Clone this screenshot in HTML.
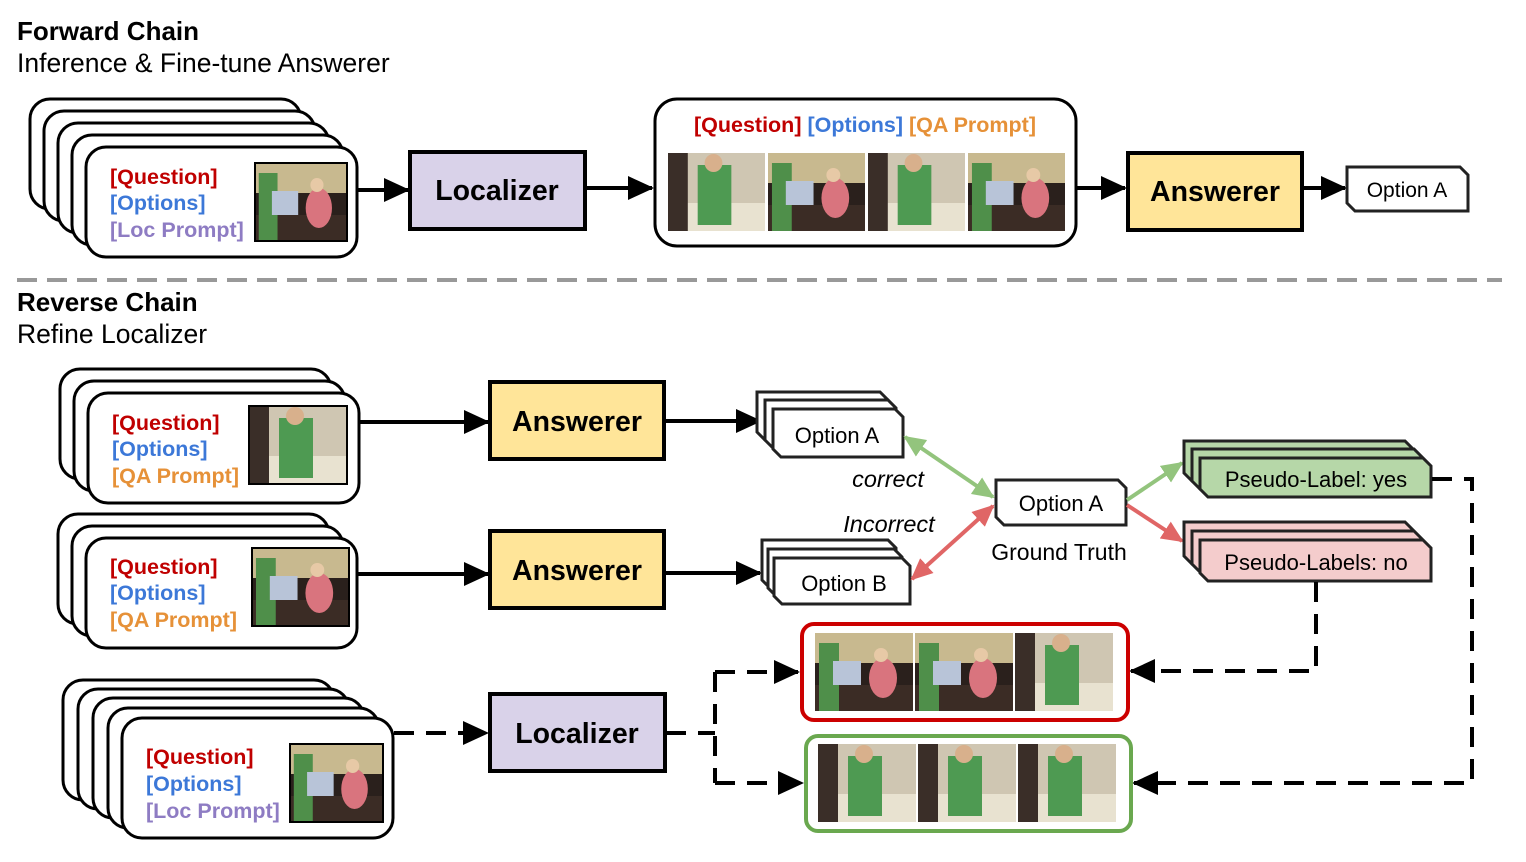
<!DOCTYPE html>
<html><head><meta charset="utf-8"><style>
html,body{margin:0;padding:0;background:#fff;}
svg{display:block;font-family:"Liberation Sans",Arial,sans-serif;}
</style></head><body>
<svg width="1526" height="862" viewBox="0 0 1526 862" xmlns="http://www.w3.org/2000/svg">
<defs>
<marker id="ah" markerUnits="userSpaceOnUse" markerWidth="26" markerHeight="24" refX="24" refY="12" orient="auto"><path d="M0,0 L26,12 L0,24 Z" fill="#000"/></marker>
<marker id="gh" markerUnits="userSpaceOnUse" markerWidth="22" markerHeight="20" refX="20" refY="10" orient="auto-start-reverse"><path d="M0,0 L22,10 L0,20 Z" fill="#93c47d"/></marker>
<marker id="rh" markerUnits="userSpaceOnUse" markerWidth="22" markerHeight="20" refX="20" refY="10" orient="auto-start-reverse"><path d="M0,0 L22,10 L0,20 Z" fill="#e06666"/></marker>
<symbol id="f1" viewBox="0 0 98 78" preserveAspectRatio="none">
<rect width="98" height="78" fill="#3b2c25"/><rect width="98" height="30" fill="#c8b98f"/><rect y="30" width="98" height="22" fill="#2a201c"/>
<ellipse cx="68" cy="45" rx="14" ry="20" fill="#d9747e"/><circle cx="66" cy="22" r="7" fill="#e7c9a6"/>
<rect x="4" y="10" width="20" height="68" fill="#4f8f4a"/><rect x="18" y="28" width="28" height="24" fill="#b8c4d8"/>
</symbol>
<symbol id="f2" viewBox="0 0 98 78" preserveAspectRatio="none">
<rect width="98" height="78" fill="#cfc6b2"/><rect y="50" width="98" height="28" fill="#e8e2d0"/>
<rect x="30" y="12" width="34" height="60" fill="#4e9a52"/><circle cx="46" cy="10" r="9" fill="#d8b08c"/><rect x="0" y="0" width="20" height="78" fill="#3a2e28"/>
</symbol>
</defs>

<text x="17" y="40" font-size="26" font-weight="bold">Forward Chain</text>
<text x="17" y="72" font-size="26.5">Inference &amp; Fine-tune Answerer</text>

<g fill="#fff" stroke="#000" stroke-width="3">
<rect x="30" y="99" width="271" height="110" rx="20"/>
<rect x="44" y="111" width="271" height="110" rx="20"/>
<rect x="58" y="123" width="271" height="110" rx="20"/>
<rect x="72" y="135" width="271" height="110" rx="20"/>
<rect x="86" y="147" width="271" height="110" rx="20"/>
</g>
<use href="#f1" x="255" y="163" width="92" height="78"/><rect x="255" y="163" width="92" height="78" fill="none" stroke="#000" stroke-width="2"/>
<g font-size="21.5" font-weight="bold"><text x="110" y="184" fill="#c00000">[Question]</text><text x="110" y="210" fill="#3c78d8">[Options]</text><text x="110" y="237" fill="#8e7cc3">[Loc Prompt]</text></g>

<line x1="358" y1="190" x2="408" y2="190" stroke="#000" stroke-width="4" marker-end="url(#ah)"/>
<rect x="410" y="152" width="175" height="77" fill="#d9d2e9" stroke="#000" stroke-width="4"/>
<text x="497" y="200" font-size="28.5" font-weight="bold" text-anchor="middle">Localizer</text>
<line x1="586" y1="188" x2="652" y2="188" stroke="#000" stroke-width="4" marker-end="url(#ah)"/>

<rect x="655" y="99" width="421" height="147" rx="22" fill="#fff" stroke="#000" stroke-width="3"/>
<text x="865" y="132" font-size="21.5" font-weight="bold" text-anchor="middle"><tspan fill="#c00000">[Question]</tspan> <tspan fill="#3c78d8">[Options]</tspan> <tspan fill="#e69138">[QA Prompt]</tspan></text>
<use href="#f2" x="668" y="153" width="97" height="78"/><use href="#f1" x="768" y="153" width="97" height="78"/><use href="#f2" x="868" y="153" width="97" height="78"/><use href="#f1" x="968" y="153" width="97" height="78"/>

<line x1="1077" y1="188" x2="1125" y2="188" stroke="#000" stroke-width="4" marker-end="url(#ah)"/>
<rect x="1128" y="153" width="174" height="77" fill="#ffe599" stroke="#000" stroke-width="4"/>
<text x="1215" y="201" font-size="28.5" font-weight="bold" text-anchor="middle">Answerer</text>
<line x1="1302" y1="188" x2="1345" y2="188" stroke="#000" stroke-width="4" marker-end="url(#ah)"/>
<path d="M1347,167 L1460,167 L1468,175 L1468,211 L1355,211 L1347,203 Z" fill="#fff" stroke="#222" stroke-width="3"/>
<text x="1407" y="197" font-size="21" text-anchor="middle">Option A</text>

<line x1="17" y1="280" x2="1502" y2="280" stroke="#999" stroke-width="4" stroke-dasharray="20,10"/>

<text x="17" y="311" font-size="26" font-weight="bold">Reverse Chain</text>
<text x="17" y="343" font-size="26.5">Refine Localizer</text>

<g fill="#fff" stroke="#000" stroke-width="3">
<rect x="60" y="369" width="271" height="110" rx="20"/>
<rect x="74" y="381" width="271" height="110" rx="20"/>
<rect x="88" y="393" width="271" height="110" rx="20"/>
</g>
<use href="#f2" x="249" y="406" width="98" height="78"/><rect x="249" y="406" width="98" height="78" fill="none" stroke="#000" stroke-width="2"/>
<g font-size="21.5" font-weight="bold"><text x="112" y="430" fill="#c00000">[Question]</text><text x="112" y="456" fill="#3c78d8">[Options]</text><text x="112" y="483" fill="#e69138">[QA Prompt]</text></g>
<line x1="359" y1="422" x2="488" y2="422" stroke="#000" stroke-width="4" marker-end="url(#ah)"/>
<rect x="490" y="382" width="174" height="77" fill="#ffe599" stroke="#000" stroke-width="4"/>
<text x="577" y="431" font-size="28.5" font-weight="bold" text-anchor="middle">Answerer</text>
<line x1="664" y1="421" x2="760" y2="421" stroke="#000" stroke-width="4" marker-end="url(#ah)"/>
<g fill="#fff" stroke="#222" stroke-width="3">
<path d="M757,392 L880,392 L888,400 L888,440 L765,440 L757,432 Z"/>
<path d="M765,400 L888,400 L896,408 L896,448 L773,448 L765,440 Z"/>
<path d="M773,409 L895,409 L903,417 L903,457 L781,457 L773,449 Z"/>
</g>
<text x="837" y="443" font-size="22" text-anchor="middle">Option A</text>

<g fill="#fff" stroke="#000" stroke-width="3">
<rect x="58" y="514" width="271" height="110" rx="20"/>
<rect x="72" y="526" width="271" height="110" rx="20"/>
<rect x="86" y="538" width="271" height="110" rx="20"/>
</g>
<use href="#f1" x="252" y="548" width="97" height="78"/><rect x="252" y="548" width="97" height="78" fill="none" stroke="#000" stroke-width="2"/>
<g font-size="21.5" font-weight="bold"><text x="110" y="574" fill="#c00000">[Question]</text><text x="110" y="600" fill="#3c78d8">[Options]</text><text x="110" y="627" fill="#e69138">[QA Prompt]</text></g>
<line x1="357" y1="574" x2="488" y2="574" stroke="#000" stroke-width="4" marker-end="url(#ah)"/>
<rect x="490" y="531" width="174" height="77" fill="#ffe599" stroke="#000" stroke-width="4"/>
<text x="577" y="580" font-size="28.5" font-weight="bold" text-anchor="middle">Answerer</text>
<line x1="664" y1="573" x2="760" y2="573" stroke="#000" stroke-width="4" marker-end="url(#ah)"/>
<g fill="#fff" stroke="#222" stroke-width="3">
<path d="M762,540 L888,540 L896,548 L896,588 L770,588 L762,580 Z"/>
<path d="M768,549 L894,549 L902,557 L902,596 L776,596 L768,588 Z"/>
<path d="M774,558 L902,558 L910,566 L910,604 L782,604 L774,596 Z"/>
</g>
<text x="844" y="591" font-size="22" text-anchor="middle">Option B</text>

<path d="M996,480 L1118,480 L1126,488 L1126,525 L1004,525 L996,517 Z" fill="#fff" stroke="#222" stroke-width="3"/>
<text x="1061" y="511" font-size="22" text-anchor="middle">Option A</text>
<text x="1059" y="560" font-size="23" text-anchor="middle">Ground Truth</text>
<text x="888" y="487" font-size="23.5" font-style="italic" text-anchor="middle">correct</text>
<text x="889" y="532" font-size="23.5" font-style="italic" text-anchor="middle">Incorrect</text>
<line x1="905" y1="437" x2="993" y2="497" stroke="#93c47d" stroke-width="4" marker-start="url(#gh)" marker-end="url(#gh)"/>
<line x1="993" y1="506" x2="912" y2="579" stroke="#e06666" stroke-width="4" marker-start="url(#rh)" marker-end="url(#rh)"/>
<line x1="1127" y1="500" x2="1182" y2="463" stroke="#93c47d" stroke-width="4" marker-end="url(#gh)"/>
<line x1="1127" y1="505" x2="1182" y2="541" stroke="#e06666" stroke-width="4" marker-end="url(#rh)"/>

<g fill="#b6d7a8" stroke="#222" stroke-width="3">
<path d="M1184,441 L1405,441 L1413,449 L1413,481 L1192,481 L1184,473 Z"/>
<path d="M1192,449 L1414,449 L1422,457 L1422,489 L1200,489 L1192,481 Z"/>
<path d="M1200,458 L1423,458 L1431,466 L1431,497 L1208,497 L1200,489 Z"/>
</g>
<text x="1316" y="487" font-size="22" text-anchor="middle">Pseudo-Label: yes</text>
<g fill="#f4cccc" stroke="#222" stroke-width="3">
<path d="M1184,522 L1405,522 L1413,530 L1413,564 L1192,564 L1184,556 Z"/>
<path d="M1192,531 L1414,531 L1422,539 L1422,572 L1200,572 L1192,564 Z"/>
<path d="M1200,540 L1423,540 L1431,548 L1431,581 L1208,581 L1200,573 Z"/>
</g>
<text x="1316" y="570" font-size="22" text-anchor="middle">Pseudo-Labels: no</text>

<g fill="none" stroke="#000" stroke-width="4" stroke-dasharray="20,12">
<path d="M1432,479 L1472,479 L1472,783 L1134,783" marker-end="url(#ah)"/>
<path d="M1316,582 L1316,671 L1131,671" marker-end="url(#ah)"/>
<path d="M394,733 L487,733" marker-end="url(#ah)"/>
<path d="M666,733 L715,733"/>
<path d="M715,672 L715,783"/>
<path d="M715,672 L798,672" marker-end="url(#ah)"/>
<path d="M715,783 L802,783" marker-end="url(#ah)"/>
</g>

<rect x="802" y="624" width="326" height="96" rx="12" fill="#fff" stroke="#cc0000" stroke-width="4"/>
<use href="#f1" x="815" y="633" width="98" height="78"/><use href="#f1" x="915" y="633" width="98" height="78"/><use href="#f2" x="1015" y="633" width="98" height="78"/>
<rect x="806" y="736" width="325" height="95" rx="12" fill="#fff" stroke="#6aa84f" stroke-width="4"/>
<use href="#f2" x="818" y="744" width="98" height="78"/><use href="#f2" x="918" y="744" width="98" height="78"/><use href="#f2" x="1018" y="744" width="98" height="78"/>

<g fill="#fff" stroke="#000" stroke-width="3">
<rect x="63" y="680" width="271" height="120" rx="20"/>
<rect x="78" y="689" width="271" height="120" rx="20"/>
<rect x="93" y="698" width="271" height="120" rx="20"/>
<rect x="108" y="708" width="271" height="120" rx="20"/>
<rect x="122" y="718" width="271" height="120" rx="20"/>
</g>
<use href="#f1" x="290" y="744" width="93" height="78"/><rect x="290" y="744" width="93" height="78" fill="none" stroke="#000" stroke-width="2"/>
<g font-size="21.5" font-weight="bold"><text x="146" y="764" fill="#c00000">[Question]</text><text x="146" y="791" fill="#3c78d8">[Options]</text><text x="146" y="818" fill="#8e7cc3">[Loc Prompt]</text></g>
<rect x="490" y="694" width="175" height="77" fill="#d9d2e9" stroke="#000" stroke-width="4"/>
<text x="577" y="743" font-size="28.5" font-weight="bold" text-anchor="middle">Localizer</text>
</svg>
</body></html>
